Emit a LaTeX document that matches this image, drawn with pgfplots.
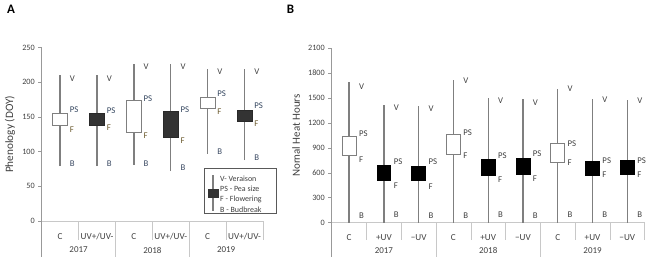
\documentclass[border=0pt]{standalone}
\usepackage{pgfplots}
\pgfplotsset{compat=1.18}
\usepackage{fontspec}
\setmainfont{Carlito}
\definecolor{whisk}{HTML}{7F7F7F}
\definecolor{boxgray}{HTML}{7F7F7F}
\definecolor{darkbox}{HTML}{333333}
\definecolor{sepgray}{HTML}{C8C8C8}
\definecolor{txt}{HTML}{404040}
\definecolor{labV}{HTML}{404040}
\definecolor{labPS}{HTML}{34465F}
\definecolor{labF}{HTML}{6B5A2E}
\definecolor{labB}{HTML}{3B4A63}
\pgfplotsset{
  wh/.style={draw=whisk, line width=1.3bp, mark=none},
  whitec/.style={draw=boxgray, fill=white, line width=0.8bp, mark=none},
  darkc/.style={draw=darkbox!80!black, fill=darkbox, line width=0.8bp, mark=none},
  blackc/.style={draw=black, fill=black, line width=0.8bp, mark=none},
}
\tikzset{lab/.style={anchor=west, inner sep=0pt, font=\fontsize{8.8}{9}\selectfont},
  sep/.style={sepgray, line width=0.6bp},
  yr/.style={font=\fontsize{9}{9}\selectfont, text=txt}}
\begin{document}
\begin{tikzpicture}[x=1bp,y=1bp]
\useasboundingbox (0,0) rectangle (649,260);
\node[font=\bfseries\fontsize{13}{13}\selectfont, inner sep=0pt] at (11,251) {A};
\node[font=\bfseries\fontsize{13}{13}\selectfont, inner sep=0pt] at (290.5,251) {B};

% ---------------- Panel A ----------------
\begin{axis}[
  at={(41.7bp,39bp)}, anchor=south west, scale only axis,
  width=221.3bp, height=173.3bp,
  xmin=-0.5, xmax=5.5, ymin=0, ymax=250,
  ytick={0,50,...,250},
  axis x line=bottom, axis y line=left, axis line style={-},
  x axis line style={draw=sepgray, line width=0.6bp},
  y axis line style={draw=gray!80, line width=0.6bp},
  xtick={0,...,5},
  xticklabels={C,UV+/UV-,C,UV+/UV-,C,UV+/UV-},
  x tick style={draw=none},
  y tick style={draw=gray!80, line width=0.6bp},
  tick align=outside, major tick length=3.5bp,
  xticklabel style={anchor=center, yshift=-12.3bp, font=\fontsize{9.2}{9}\selectfont, text=txt},
  yticklabel style={font=\fontsize{8.2}{8}\selectfont, text=txt},
  /pgf/number format/assume math mode=true,
  ylabel={Phenology (DOY)},
  every axis y label/.style={at={(axis description cs:0,0.5)}, xshift=-31.7bp, rotate=90, anchor=center, font=\fontsize{11.3}{11}\selectfont, text=txt},
  clip=false,
]
% whiskers: budbreak -> veraison
\addplot[wh] coordinates {(0,79) (0,211)};
\addplot[wh] coordinates {(1,79) (1,211)};
\addplot[wh] coordinates {(2,81) (2,227)};
\addplot[wh] coordinates {(3,72) (3,227)};
\addplot[wh] coordinates {(4,97) (4,219)};
\addplot[wh] coordinates {(5,88) (5,219)};
% boxes: flowering -> pea size
\addplot[whitec] coordinates {(-0.2,138) (0.2,138) (0.2,155) (-0.2,155)} -- cycle;
\addplot[darkc] coordinates {(0.8,138) (1.2,138) (1.2,155) (0.8,155)} -- cycle;
\addplot[whitec] coordinates {(1.8,128) (2.2,128) (2.2,174) (1.8,174)} -- cycle;
\addplot[darkc] coordinates {(2.8,121) (3.2,121) (3.2,158) (2.8,158)} -- cycle;
\addplot[whitec] coordinates {(3.8,162) (4.2,162) (4.2,178) (3.8,178)} -- cycle;
\addplot[darkc] coordinates {(4.8,144) (5.2,144) (5.2,160) (4.8,160)} -- cycle;
% labels
\node[lab, text=labV] at (axis cs:0.26,206) {V};
\node[lab, text=labPS] at (axis cs:0.26,161) {PS};
\node[lab, text=labF] at (axis cs:0.26,132) {F};
\node[lab, text=labB] at (axis cs:0.26,82) {B};
\node[lab, text=labV] at (axis cs:1.26,206) {V};
\node[lab, text=labPS] at (axis cs:1.26,159) {PS};
\node[lab, text=labF] at (axis cs:1.26,134) {F};
\node[lab, text=labB] at (axis cs:1.26,83) {B};
\node[lab, text=labV] at (axis cs:2.26,222) {V};
\node[lab, text=labPS] at (axis cs:2.26,177) {PS};
\node[lab, text=labF] at (axis cs:2.26,123) {F};
\node[lab, text=labB] at (axis cs:2.26,83) {B};
\node[lab, text=labV] at (axis cs:3.26,222) {V};
\node[lab, text=labPS] at (axis cs:3.26,161) {PS};
\node[lab, text=labF] at (axis cs:3.26,116) {F};
\node[lab, text=labB] at (axis cs:3.26,77) {B};
\node[lab, text=labV] at (axis cs:4.26,215) {V};
\node[lab, text=labPS] at (axis cs:4.26,183) {PS};
\node[lab, text=labF] at (axis cs:4.26,157) {F};
\node[lab, text=labB] at (axis cs:4.26,100) {B};
\node[lab, text=labV] at (axis cs:5.26,215) {V};
\node[lab, text=labPS] at (axis cs:5.26,166) {PS};
\node[lab, text=labF] at (axis cs:5.26,140) {F};
\node[lab, text=labB] at (axis cs:5.26,92) {B};
% separators
\draw[sep] (axis cs:0.5,0) -- (axis cs:0.5,-27.4);
\draw[sep] (axis cs:2.5,0) -- (axis cs:2.5,-27.4);
\draw[sep] (axis cs:4.5,0) -- (axis cs:4.5,-27.4);
\draw[sep] (axis cs:1.5,0) -- (axis cs:1.5,-52);
\draw[sep] (axis cs:3.5,0) -- (axis cs:3.5,-52);
\draw[gray!80, line width=0.6bp] (axis cs:-0.5,0) -- (axis cs:-0.5,-52);
\draw[sep] (axis cs:5.5,0) -- (axis cs:5.5,-27.4);
% years
\node[yr] at (axis cs:0.5,-41.8) {2017};
\node[yr] at (axis cs:2.5,-41.8) {2018};
\node[yr] at (axis cs:4.5,-41.8) {2019};
\end{axis}

% legend of panel A
\draw[gray!70!black, line width=0.7bp, fill=white] (204,92) rectangle (276,46.7);
\draw[whisk, line width=1.1bp] (213,85) -- (213,49);
\draw[darkbox, fill=darkbox] (208.5,71) rectangle (218,63);
\begin{scope}[every node/.style={anchor=west, inner sep=0pt, font=\fontsize{8}{8}\selectfont, text=txt}]
\node at (220,81.3) {V- Veraison};
\node at (220,71) {PS - Pea size};
\node at (220,60.7) {F - Flowering};
\node at (220,50.7) {B - Budbreak};
\end{scope}

% ---------------- Panel B ----------------
\begin{axis}[
  at={(331.7bp,37.3bp)}, anchor=south west, scale only axis,
  width=313bp, height=174.4bp,
  xmin=-0.5, xmax=8.5, ymin=0, ymax=2100,
  ytick={0,300,...,2100},
  axis x line=bottom, axis y line=left, axis line style={-},
  x axis line style={draw=sepgray, line width=0.6bp},
  y axis line style={draw=gray!80, line width=0.6bp},
  xtick={0,...,8},
  xticklabels={C,+UV,−UV,C,+UV,−UV,C,+UV,−UV},
  x tick style={draw=none},
  y tick style={draw=gray!80, line width=0.6bp},
  tick align=outside, major tick length=3.5bp,
  xticklabel style={anchor=center, yshift=-11.6bp, font=\fontsize{9.2}{9}\selectfont, text=txt},
  yticklabel style={font=\fontsize{8.2}{8}\selectfont, text=txt},
  /pgf/number format/assume math mode=true,
  /pgf/number format/1000 sep={},
  ylabel={Nornal Heat Hours},
  every axis y label/.style={at={(axis description cs:0,0.5)}, xshift=-35.7bp, rotate=90, anchor=center, font=\fontsize{11}{11}\selectfont, text=txt},
  clip=false,
]
% whiskers
\addplot[wh] coordinates {(0,0) (0,1694)};
\addplot[wh] coordinates {(1,0) (1,1421)};
\addplot[wh] coordinates {(2,0) (2,1405)};
\addplot[wh] coordinates {(3,0) (3,1718)};
\addplot[wh] coordinates {(4,0) (4,1502)};
\addplot[wh] coordinates {(5,0) (5,1494)};
\addplot[wh] coordinates {(6,0) (6,1610)};
\addplot[wh] coordinates {(7,0) (7,1486)};
\addplot[wh] coordinates {(8,0) (8,1478)};
% boxes
\addplot[whitec] coordinates {(-0.2,807) (0.2,807) (0.2,1036) (-0.2,1036)} -- cycle;
\addplot[blackc] coordinates {(0.8,514) (1.2,514) (1.2,687) (0.8,687)} -- cycle;
\addplot[blackc] coordinates {(1.8,506) (2.2,506) (2.2,675) (1.8,675)} -- cycle;
\addplot[whitec] coordinates {(2.8,827) (3.2,827) (3.2,1060) (2.8,1060)} -- cycle;
\addplot[blackc] coordinates {(3.8,574) (4.2,574) (4.2,763) (3.8,763)} -- cycle;
\addplot[blackc] coordinates {(4.8,586) (5.2,586) (5.2,771) (4.8,771)} -- cycle;
\addplot[whitec] coordinates {(5.8,723) (6.2,723) (6.2,956) (5.8,956)} -- cycle;
\addplot[blackc] coordinates {(6.8,574) (7.2,574) (7.2,743) (6.8,743)} -- cycle;
\addplot[blackc] coordinates {(7.8,578) (8.2,578) (8.2,751) (7.8,751)} -- cycle;
% labels
\node[lab, text=txt] at (axis cs:0.28,1642) {V};
\node[lab, text=txt] at (axis cs:0.28,1076) {PS};
\node[lab, text=txt] at (axis cs:0.28,755) {F};
\node[lab, text=txt] at (axis cs:0.28,80) {B};
\node[lab, text=txt] at (axis cs:1.28,1381) {V};
\node[lab, text=txt] at (axis cs:1.28,739) {PS};
\node[lab, text=txt] at (axis cs:1.28,442) {F};
\node[lab, text=txt] at (axis cs:1.28,92) {B};
\node[lab, text=txt] at (axis cs:2.28,1373) {V};
\node[lab, text=txt] at (axis cs:2.28,739) {PS};
\node[lab, text=txt] at (axis cs:2.28,434) {F};
\node[lab, text=txt] at (axis cs:2.28,80) {B};
\node[lab, text=txt] at (axis cs:3.28,1707) {V};
\node[lab, text=txt] at (axis cs:3.28,1088) {PS};
\node[lab, text=txt] at (axis cs:3.28,807) {F};
\node[lab, text=txt] at (axis cs:3.28,80) {B};
\node[lab, text=txt] at (axis cs:4.28,1470) {V};
\node[lab, text=txt] at (axis cs:4.28,807) {PS};
\node[lab, text=txt] at (axis cs:4.28,514) {F};
\node[lab, text=txt] at (axis cs:4.28,92) {B};
\node[lab, text=txt] at (axis cs:5.28,1446) {V};
\node[lab, text=txt] at (axis cs:5.28,831) {PS};
\node[lab, text=txt] at (axis cs:5.28,534) {F};
\node[lab, text=txt] at (axis cs:5.28,80) {B};
\node[lab, text=txt] at (axis cs:6.28,1610) {V};
\node[lab, text=txt] at (axis cs:6.28,956) {PS};
\node[lab, text=txt] at (axis cs:6.28,727) {F};
\node[lab, text=txt] at (axis cs:6.28,92) {B};
\node[lab, text=txt] at (axis cs:7.28,1482) {V};
\node[lab, text=txt] at (axis cs:7.28,743) {PS};
\node[lab, text=txt] at (axis cs:7.28,574) {F};
\node[lab, text=txt] at (axis cs:7.28,92) {B};
\node[lab, text=txt] at (axis cs:8.28,1466) {V};
\node[lab, text=txt] at (axis cs:8.28,743) {PS};
\node[lab, text=txt] at (axis cs:8.28,574) {F};
\node[lab, text=txt] at (axis cs:8.28,92) {B};
% separators
\draw[sep] (axis cs:0.5,0) -- (axis cs:0.5,-208);
\draw[sep] (axis cs:1.5,0) -- (axis cs:1.5,-208);
\draw[sep] (axis cs:3.5,0) -- (axis cs:3.5,-208);
\draw[sep] (axis cs:4.5,0) -- (axis cs:4.5,-208);
\draw[sep] (axis cs:6.5,0) -- (axis cs:6.5,-208);
\draw[sep] (axis cs:7.5,0) -- (axis cs:7.5,-208);
\draw[sep] (axis cs:2.5,0) -- (axis cs:2.5,-409);
\draw[sep] (axis cs:5.5,0) -- (axis cs:5.5,-409);
\draw[gray!80, line width=0.6bp] (axis cs:-0.5,0) -- (axis cs:-0.5,-409);
\draw[sep] (axis cs:8.5,0) -- (axis cs:8.5,-208);
% years
\node[yr] at (axis cs:1,-337) {2017};
\node[yr] at (axis cs:4,-337) {2018};
\node[yr] at (axis cs:7,-337) {2019};
\end{axis}
\end{tikzpicture}
\end{document}
